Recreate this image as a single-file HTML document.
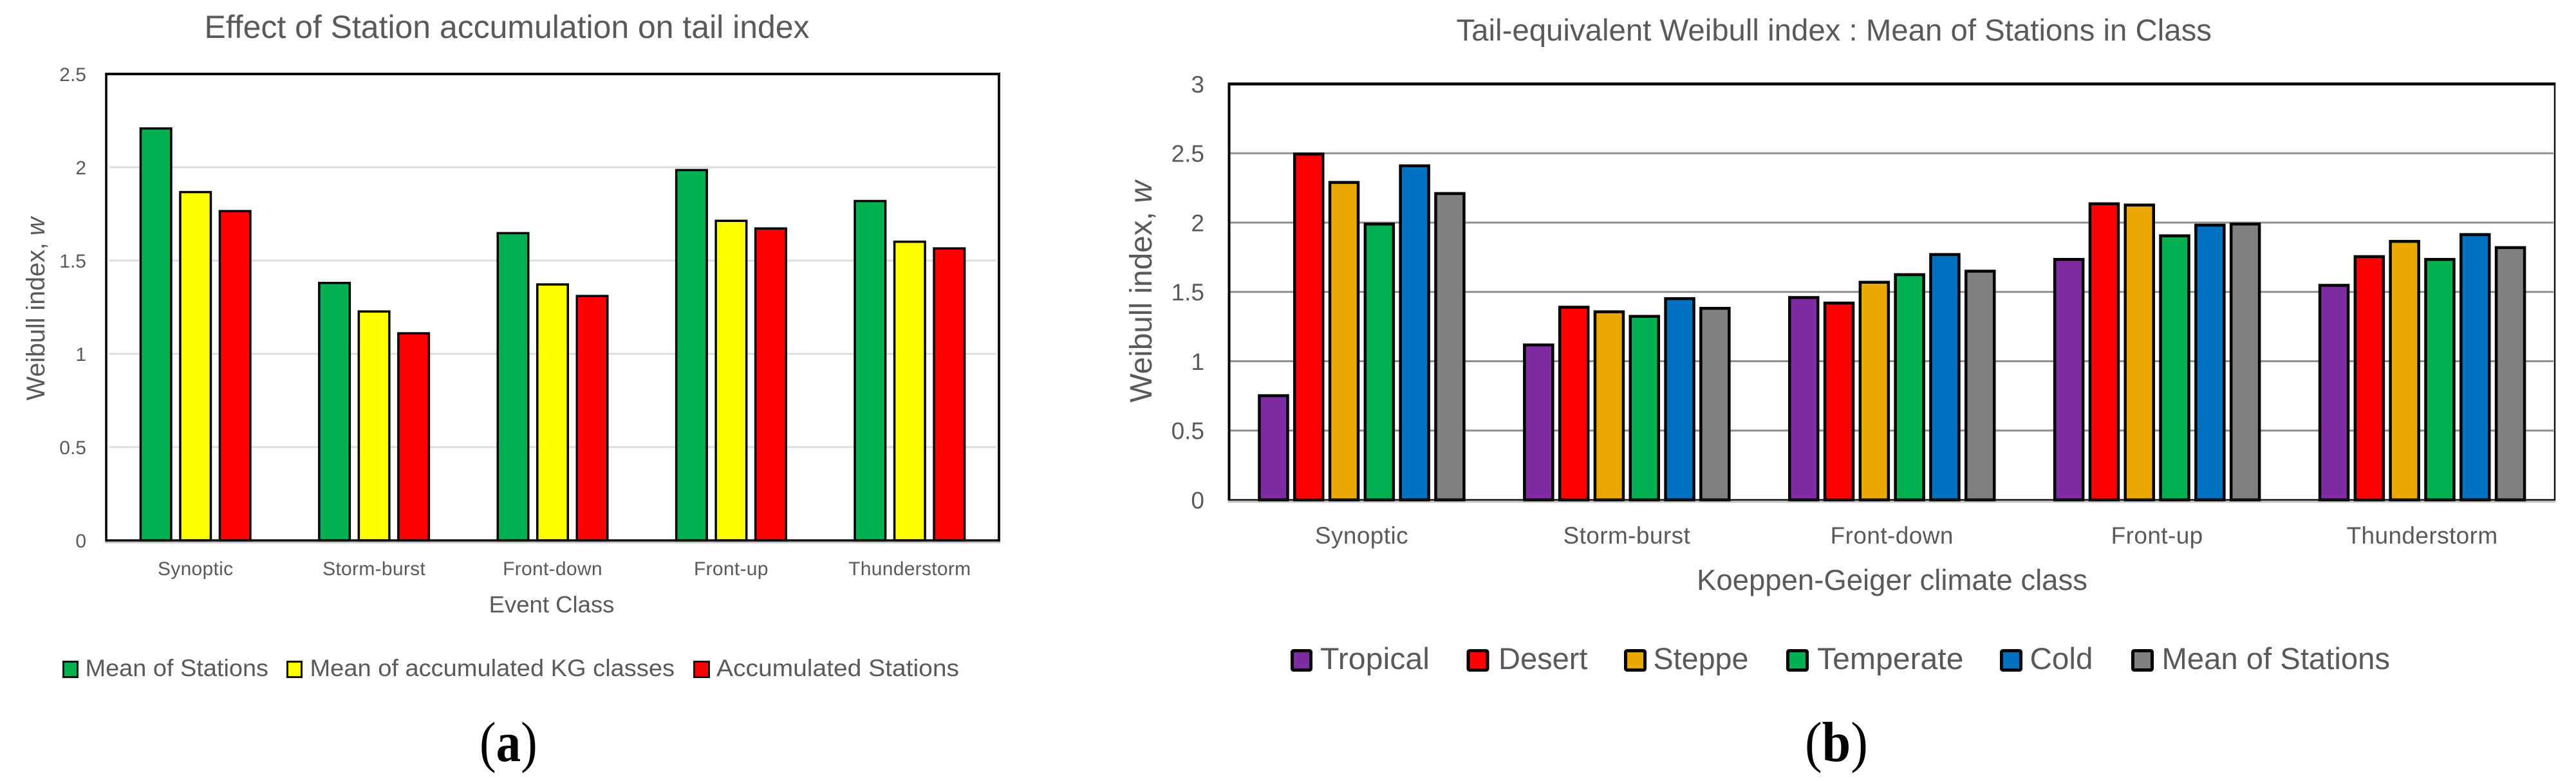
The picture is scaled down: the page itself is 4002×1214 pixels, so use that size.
<!DOCTYPE html>
<html lang="en">
<head>
<meta charset="utf-8">
<title>Effect of Station accumulation and tail-equivalent Weibull index</title>
<style>
html,body{margin:0;padding:0;background:#fff;width:4002px;height:1214px;overflow:hidden}
svg{display:block}
text{font-family:"Liberation Sans",sans-serif;fill:#595959}
.serif{font-family:"Liberation Serif",serif;fill:#000}
</style>
</head>
<body>
<svg id="figure" xmlns="http://www.w3.org/2000/svg" width="4002" height="1214" viewBox="0 0 4002 1214">
  <rect width="4002" height="1214" fill="#fff"/>

  <!-- Panel (a) -->
  <g id="chartA">
    <text x="317.5" y="59" font-size="49.8" textLength="940" lengthAdjust="spacingAndGlyphs">Effect of Station accumulation on tail index</text>
    <text transform="translate(69,480) rotate(-90)" text-anchor="middle" font-size="39.5">Weibull index, <tspan font-style="italic">w</tspan></text>
    <text x="857" y="952" text-anchor="middle" font-size="36.5">Event Class</text>
    <g>
      <rect x="98.5" y="1028.5" width="22" height="24" fill="#00B050" stroke="#111" stroke-width="3"/>
      <text x="132.5" y="1051" font-size="37" textLength="284.5" lengthAdjust="spacingAndGlyphs">Mean of Stations</text>
      <rect x="446.5" y="1028.5" width="22" height="24" fill="#FFFF00" stroke="#111" stroke-width="3"/>
      <text x="481.5" y="1051" font-size="37" textLength="566.5" lengthAdjust="spacingAndGlyphs">Mean of accumulated KG classes</text>
      <rect x="1078.5" y="1028.5" width="23" height="24" fill="#FF0000" stroke="#111" stroke-width="3"/>
      <text x="1113" y="1051" font-size="37" textLength="377" lengthAdjust="spacingAndGlyphs">Accumulated Stations</text>
    </g>
    <text class="serif" transform="translate(745,1183) scale(.875,1)" font-size="88">(<tspan font-weight="bold">a</tspan>)</text>
  </g>

  <!-- Panel (b) -->
  <g id="chartB">
    <text x="2262.5" y="63" font-size="47" textLength="1173.5" lengthAdjust="spacingAndGlyphs">Tail-equivalent Weibull index : Mean of Stations in Class</text>
    <text transform="translate(1789,453.5) rotate(-90)" text-anchor="middle" font-size="47.8">Weibull index, <tspan font-style="italic">w</tspan></text>
    <text x="2939.5" y="917" text-anchor="middle" font-size="45.5">Koeppen-Geiger climate class</text>
    <g>
      <rect x="2007.5" y="1011.5" width="29" height="30" rx="2" fill="#7F2CA3" stroke="#000" stroke-width="5"/>
      <text x="2051" y="1040" font-size="47" textLength="170" lengthAdjust="spacingAndGlyphs">Tropical</text>
      <rect x="2281" y="1011.5" width="30" height="30" rx="2" fill="#FF0000" stroke="#000" stroke-width="5"/>
      <text x="2328" y="1040" font-size="47" textLength="138.5" lengthAdjust="spacingAndGlyphs">Desert</text>
      <rect x="2525.5" y="1011.5" width="30" height="30" rx="2" fill="#EBA800" stroke="#000" stroke-width="5"/>
      <text x="2568.5" y="1040" font-size="47" textLength="148" lengthAdjust="spacingAndGlyphs">Steppe</text>
      <rect x="2777.5" y="1011.5" width="30" height="30" rx="2" fill="#00B050" stroke="#000" stroke-width="5"/>
      <text x="2823" y="1040" font-size="47" textLength="227.5" lengthAdjust="spacingAndGlyphs">Temperate</text>
      <rect x="3109.5" y="1011.5" width="30" height="30" rx="2" fill="#0070C0" stroke="#000" stroke-width="5"/>
      <text x="3153.5" y="1040" font-size="47" textLength="98" lengthAdjust="spacingAndGlyphs">Cold</text>
      <rect x="3313.5" y="1011.5" width="30" height="30" rx="2" fill="#808080" stroke="#000" stroke-width="5"/>
      <text x="3358.5" y="1040" font-size="47" textLength="354.5" lengthAdjust="spacingAndGlyphs">Mean of Stations</text>
    </g>
    <text class="serif" transform="translate(2804,1183) scale(.91,1)" font-size="88">(<tspan font-weight="bold">b</tspan>)</text>
  </g>
</svg>

<script>
const categories = ['Synoptic', 'Storm-burst', 'Front-down', 'Front-up', 'Thunderstorm'];

const ticksA = [0, 0.5, 1, 1.5, 2, 2.5];
const tickLabelsA = ['0', '0.5', '1', '1.5', '2', '2.5'];
const meanOfStationsA = [2.214, 1.386, 1.653, 1.991, 1.825];
const meanOfAccumulatedKG = [1.873, 1.233, 1.378, 1.719, 1.607];
const accumulatedStations = [1.771, 1.116, 1.316, 1.678, 1.571];

const ticksB = [0, 0.5, 1, 1.5, 2, 2.5, 3];
const tickLabelsB = ['0', '0.5', '1', '1.5', '2', '2.5', '3'];
const tropical = [0.762, 1.128, 1.47, 1.745, 1.558];
const desert = [2.505, 1.4, 1.43, 2.146, 1.765];
const steppe = [2.3, 1.367, 1.58, 2.137, 1.875];
const temperate = [2.0, 1.334, 1.635, 1.915, 1.745];
const cold = [2.42, 1.462, 1.78, 1.992, 1.924];
const meanOfStationsB = [2.22, 1.392, 1.66, 2.0, 1.83];

const seriesA = [meanOfStationsA, meanOfAccumulatedKG, accumulatedStations];
const seriesNamesA = ['mean-of-stations', 'mean-of-accumulated-kg', 'accumulated-stations'];
const seriesColorsA = ['#00B050', '#FFFF00', '#FF0000'];

const seriesB = [tropical, desert, steppe, temperate, cold, meanOfStationsB];
const seriesNamesB = ['tropical', 'desert', 'steppe', 'temperate', 'cold', 'mean-of-stations'];
const seriesColorsB = ['#7F2CA3', '#FF0000', '#EBA800', '#00B050', '#0070C0', '#808080'];

const NS = 'http://www.w3.org/2000/svg';

function mk(parent, tag, attrs) {
  const el = document.createElementNS(NS, tag);
  for (const k in attrs) el.setAttribute(k, attrs[k]);
  parent.appendChild(el);
  return el;
}

function drawChart(root, o) {
  const yScale = v => o.bottom - (v / o.max) * (o.bottom - o.top);
  const band = (o.right - o.left) / categories.length;
  const xCenter = c => o.left + band * (c + 0.5);
  const xBar = (c, s) => xCenter(c) + (s - (o.series.length - 1) / 2) * o.step;

  // gridlines and y tick labels
  o.ticks.forEach((t, i) => {
    if (t > 0 && t < o.max) {
      const g = mk(root, 'line', {x1: o.gridLeft, x2: o.gridRight, y1: yScale(t), y2: yScale(t), stroke: o.gridColor, 'stroke-width': 3});
      
      
    }
    const label = mk(root, 'text', {x: o.tickRight, y: yScale(t) + o.tickFont * 0.36, 'text-anchor': 'end', 'font-size': o.tickFont});
    label.textContent = o.tickLabels[i];
    
    
  });

  // soft shadow below the category axis
  const shadow = mk(root, 'line', {x1: o.left - o.frameL / 2, x2: o.right + o.frameR / 2, y1: o.bottom + 3, y2: o.bottom + 3, stroke: '#c4c4c4', 'stroke-width': 3});
  
  

  // bars
  o.series.forEach((values, s) => {
    values.forEach((v, c) => {
      const top = yScale(v) + o.barStroke / 2;
      const bar = mk(root, 'rect', {
        x: xBar(c, s) - (o.barWidth - o.barStroke) / 2,
        y: top,
        width: o.barWidth - o.barStroke,
        height: o.bottom - top,
        fill: o.colors[s],
        stroke: '#000',
        'stroke-width': o.barStroke
      });
      
      
    });
  });

  // category labels
  categories.forEach((name, c) => {
    const label = mk(root, 'text', {x: xCenter(c), y: o.catBaseline, 'text-anchor': 'middle', 'font-size': o.catFont, 'letter-spacing': o.catSpacing});
    label.textContent = name;
    
    
  });

  // plot frame
  const frameTop = mk(root, 'line', {x1: o.left - o.frameL / 2, x2: o.right + o.frameR / 2, y1: o.top, y2: o.top, stroke: '#000', 'stroke-width': o.frameT});
  
  
  const frameLeft = mk(root, 'line', {x1: o.left, x2: o.left, y1: o.top, y2: o.bottom + o.frameB / 2, stroke: '#000', 'stroke-width': o.frameL});
  
  
  const frameRight = mk(root, 'line', {x1: o.right, x2: o.right, y1: o.top, y2: o.bottom + o.frameB / 2, stroke: '#111', 'stroke-width': o.frameR});
  
  
  const axis = mk(root, 'line', {x1: o.left, x2: o.right, y1: o.bottom, y2: o.bottom, stroke: '#111', 'stroke-width': o.frameB});
  
  
}

drawChart(document.getElementById('chartA'), {
  series: seriesA, names: seriesNamesA, colors: seriesColorsA,
  ticks: ticksA, tickLabels: tickLabelsA, max: 2.5,
  left: 165, right: 1552, top: 115, bottom: 840,
  gridLeft: 170, gridRight: 1548, gridColor: '#dcdcdc',
  step: 61.5, barWidth: 51, barStroke: 3.5,
  tickRight: 134, tickFont: 30,
  catBaseline: 894, catFont: 30, catSpacing: 0.3,
  frameT: 4, frameL: 3.5, frameR: 4, frameB: 3.5
});

drawChart(document.getElementById('chartB'), {
  series: seriesB, names: seriesNamesB, colors: seriesColorsB,
  ticks: ticksB, tickLabels: tickLabelsB, max: 3,
  left: 1909.5, right: 3969, top: 130.5, bottom: 777,
  gridLeft: 1911, gridRight: 3967, gridColor: '#8f8f8f',
  step: 54.8, barWidth: 48.5, barStroke: 4.5,
  tickRight: 1871, tickFont: 37,
  catBaseline: 845, catFont: 37, catSpacing: 0.4,
  frameT: 4.5, frameL: 4, frameR: 2.5, frameB: 2.5
});
</script>
</body>
</html>
